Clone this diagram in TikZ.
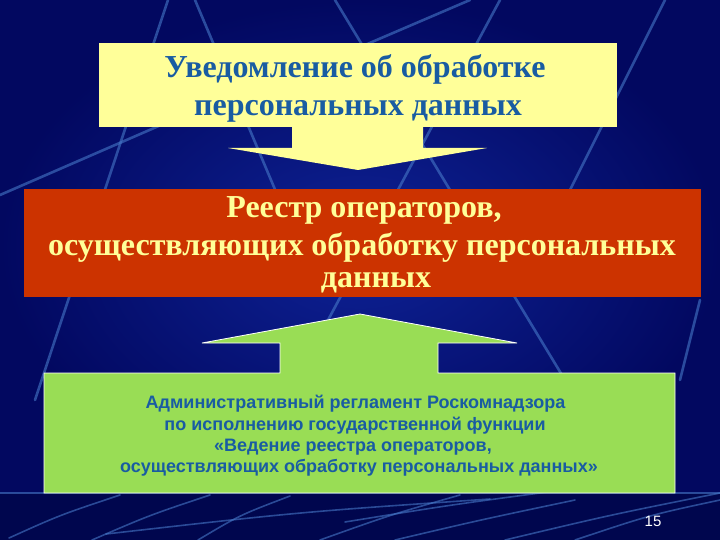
\documentclass[tikz,border=0pt]{standalone}
\usepackage{fontspec}
\setmainfont{Liberation Serif}
\setsansfont{Liberation Sans}
\definecolor{bgblue}{RGB}{8,20,128}
\definecolor{bgmid}{RGB}{14,34,150}
\definecolor{bgedge}{RGB}{2,8,96}
\definecolor{bgdark}{RGB}{0,6,78}
\definecolor{streak}{RGB}{70,120,200}
\definecolor{yelfill}{RGB}{255,255,153}
\definecolor{redfill}{RGB}{204,51,0}
\definecolor{grnfill}{RGB}{153,221,85}
\definecolor{txtblue}{RGB}{25,92,162}
\definecolor{txtyel}{RGB}{255,255,153}
\tikzset{
  bgline/.style={draw=streak, line width=2.6pt, opacity=0.6, line cap=round},
  lowline/.style={draw=streak, line width=1.6pt, opacity=0.6, line cap=round},
  ytext/.style={anchor=base, inner sep=0pt, text=txtblue, font=\bfseries\fontsize{32}{34}\selectfont},
  rtext/.style={anchor=base, inner sep=0pt, text=txtyel, font=\bfseries\fontsize{32}{34}\selectfont},
  gtext/.style={anchor=base, inner sep=0pt, text=txtblue, font=\sffamily\bfseries\fontsize{18}{20}\selectfont},
}
\begin{document}
\begin{tikzpicture}[x=1pt,y=-1pt]
\useasboundingbox (0,0) rectangle (720,540);
% background
\fill[bgblue] (0,0) rectangle (720,540);
\shade[inner color=bgmid, outer color=bgedge] (0,0) rectangle (720,493);
\fill[bgdark] (0,493) rectangle (720,540);
% background streaks
\draw[bgline] (168,0) -- (35,400);
\draw[bgline] (195,0) -- (290,225);
\draw[bgline] (0,195) -- (230,95);
\draw[bgline] (335,0) -- (565,380);
\draw[bgline] (500,0) -- (320,335);
\draw[bgline] (470,0) -- (330,60);
\draw[bgline] (665,0) -- (560,210);
\draw[bgline] (700,300) -- (680,380);
\draw[draw=streak, line width=1.2pt, opacity=0.6] (0,493) -- (720,493);
% bottom streaks
\draw[lowline] (9,538) .. controls (60,515) .. (120,495);
\draw[lowline] (92,540) .. controls (150,515) .. (210,495);
\draw[lowline] (106,534) .. controls (300,512) .. (490,499);
\draw[lowline] (198,540) .. controls (240,515) .. (290,496);
\draw[lowline] (320,540) .. controls (390,515) .. (460,495);
\draw[lowline] (345,522) .. controls (450,505) .. (555,491);
\draw[lowline] (395,540) .. controls (480,520) .. (575,500);
\draw[lowline] (505,540) .. controls (610,515) .. (720,493);
\draw[lowline] (575,540) .. controls (650,515) .. (720,500);
% yellow box and arrow
\node[fill=yelfill, inner sep=0pt, minimum width=518pt, minimum height=84pt] (notice) at (358,85) {};
\fill[yelfill] (292,126) -- (423,126) -- (423,148) -- (487,148) -- (358,170) -- (228,148) -- (292,148) -- cycle;
% red box
\node[fill=redfill, inner sep=0pt, minimum width=677pt, minimum height=108pt] (registry) at (362.5,243) {};
% green box with arrow
\path[fill=grnfill, draw=white, line width=0.8pt]
  (44,373) -- (280,373) -- (280,343) -- (202,343) -- (360,314) -- (517,343) -- (438,343) -- (438,373)
  -- (675,373) -- (675,493) -- (44,493) -- cycle;
% texts
\node[ytext] (n1) at (355,78) {Уведомление об обработке};
\node[ytext] (n2) at (358,116) {персональных данных};
\node[rtext] (r1) at (364,218) {Реестр операторов,};
\node[rtext] (r2) at (362,255) {осуществляющих обработку персональных};
\node[rtext] (r3) at (376,287) {данных};
\node[gtext] (g1) at (355.5,408) {Административный регламент Роскомнадзора};
\node[gtext] (g2) at (355,430) {по исполнению государственной функции};
\node[gtext] (g3) at (353,451) {«Ведение реестра операторов,};
\node[gtext] (g4) at (359,472) {осуществляющих обработку персональных данных»};
\node[anchor=base, inner sep=0pt, text=white, font=\sffamily\fontsize{15}{17}\selectfont] (pg) at (653,526) {15};
\end{tikzpicture}
\end{document}
